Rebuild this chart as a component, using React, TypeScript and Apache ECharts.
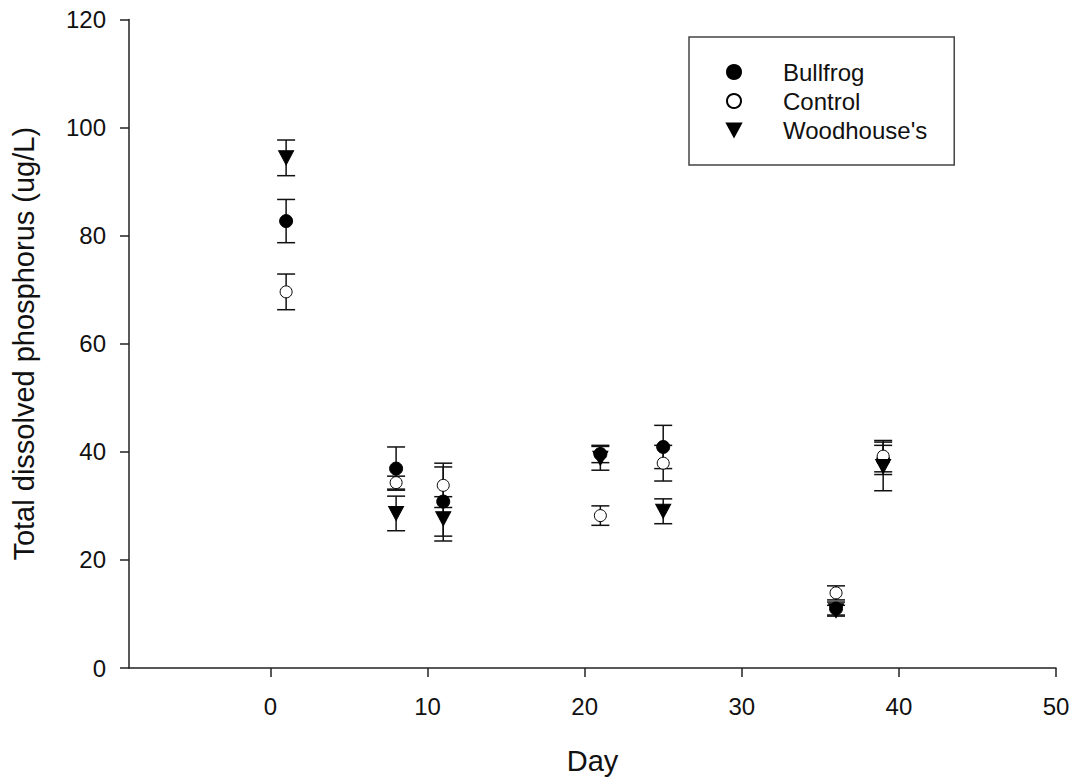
import React, { useEffect, useRef } from "react";
import * as echarts from "echarts";

const days = [1, 8, 11, 21, 25, 36, 39];
const bullfrog = [82.7, 36.9, 30.8, 39.6, 40.9, 11.0, 38.5];
const bullfrogErr = [4.0, 4.0, 6.4, 1.6, 4.0, 1.2, 2.7];
const control = [69.6, 34.3, 33.8, 28.2, 37.9, 13.9, 39.2];
const controlErr = [3.3, 1.2, 4.1, 1.8, 3.3, 1.3, 2.9];
const woodhouse = [94.4, 28.6, 27.6, 38.8, 29.0, 10.6, 37.3];
const woodhouseErr = [3.3, 3.2, 4.1, 2.2, 2.3, 1.0, 4.5];
const xTicks = [0, 10, 20, 30, 40, 50];

const FONT = "'Liberation Sans', Arial, sans-serif";

function errData(vals: number[], errs: number[]) {
  return days.map((d, i) => [d, vals[i] - errs[i], vals[i] + errs[i]]);
}

function errSeries(name: string, vals: number[], errs: number[]) {
  return {
    type: "custom",
    name: name + " err",
    data: errData(vals, errs),
    z: 2,
    silent: true,
    renderItem: (params: any, api: any) => {
      const x = api.value(0);
      const lo = api.coord([x, api.value(1)]);
      const hi = api.coord([x, api.value(2)]);
      const w = 9;
      const style = { stroke: "#111", lineWidth: 1.5 };
      return {
        type: "group",
        children: [
          { type: "line", shape: { x1: lo[0], y1: lo[1], x2: hi[0], y2: hi[1] }, style },
          { type: "line", shape: { x1: lo[0] - w, y1: lo[1], x2: lo[0] + w, y2: lo[1] }, style },
          { type: "line", shape: { x1: hi[0] - w, y1: hi[1], x2: hi[0] + w, y2: hi[1] }, style },
        ],
      };
    },
  };
}

export default function App() {
  const ref = useRef<HTMLDivElement>(null);
  useEffect(() => {
    if (!ref.current) return;
    const chart = echarts.init(ref.current, null, { renderer: "svg" });
    chart.setOption({
      animation: false,
      backgroundColor: "#fff",
      textStyle: { fontFamily: FONT },
      grid: { left: 129, right: 22, top: 19.5, bottom: 112 },
      legend: {
        left: 689,
        top: 37,
        orient: "vertical",
        data: [
          { name: "Bullfrog" },
          { name: "Control" },
          { name: "Woodhouse's", icon: "path://M0,0L14,0L7,13Z" },
        ],
        itemWidth: 14,
        itemHeight: 14,
        itemGap: 5,
        padding: [23, 27, 23, 37],
        borderColor: "#444",
        borderWidth: 1.5,
        textStyle: { fontSize: 24, color: "#111", fontFamily: FONT, lineHeight: 24, padding: [0, 0, 0, 37] },
      },
      xAxis: {
        type: "value",
        min: -9,
        max: 50,
        name: "Day",
        nameLocation: "middle",
        nameGap: 78,
        nameTextStyle: { fontSize: 29, color: "#111", fontFamily: FONT },
        splitLine: { show: false },
        axisLine: { onZero: false, lineStyle: { color: "#222", width: 1.5 } },
        axisTick: { show: true, length: 9, customValues: xTicks, lineStyle: { color: "#222", width: 1.5 } },
        axisLabel: { customValues: xTicks, fontSize: 24, color: "#111", margin: 26, fontFamily: FONT },
      },
      yAxis: {
        type: "value",
        min: 0,
        max: 120,
        interval: 20,
        name: "Total dissolved phosphorus (ug/L)",
        nameLocation: "middle",
        nameGap: 91,
        nameTextStyle: { fontSize: 29, color: "#111", fontFamily: FONT },
        splitLine: { show: false },
        axisLine: { show: true, onZero: false, lineStyle: { color: "#222", width: 1.5 } },
        axisTick: { show: true, length: 9, lineStyle: { color: "#222", width: 1.5 } },
        axisLabel: { fontSize: 24, color: "#111", margin: 23, fontFamily: FONT },
      },
      series: [
        errSeries("Bullfrog", bullfrog, bullfrogErr),
        errSeries("Control", control, controlErr),
        errSeries("Woodhouse's", woodhouse, woodhouseErr),
        {
          type: "scatter",
          name: "Bullfrog",
          data: days.map((d, i) => [d, bullfrog[i]]),
          symbol: "circle",
          symbolSize: 13,
          z: 3,
          itemStyle: { color: "#000", borderColor: "#000", borderWidth: 1, opacity: 1 },
        },
        {
          type: "scatter",
          name: "Control",
          data: days.map((d, i) => [d, control[i]]),
          symbol: "circle",
          symbolSize: 12,
          z: 3,
          itemStyle: { color: "#fff", borderColor: "#000", borderWidth: 1, opacity: 1 },
        },
        {
          type: "scatter",
          name: "Woodhouse's",
          data: days.map((d, i) => [d, woodhouse[i]]),
          symbol: "triangle",
          symbolRotate: 180,
          symbolSize: [15, 14],
          z: 3,
          itemStyle: { color: "#000", borderColor: "#000", borderWidth: 1, opacity: 1 },
        },
      ],
    });
    return () => chart.dispose();
  }, []);
  return <div ref={ref} style={{ position: "absolute", left: 0, top: 0, width: 1078, height: 780 }} />;
}
